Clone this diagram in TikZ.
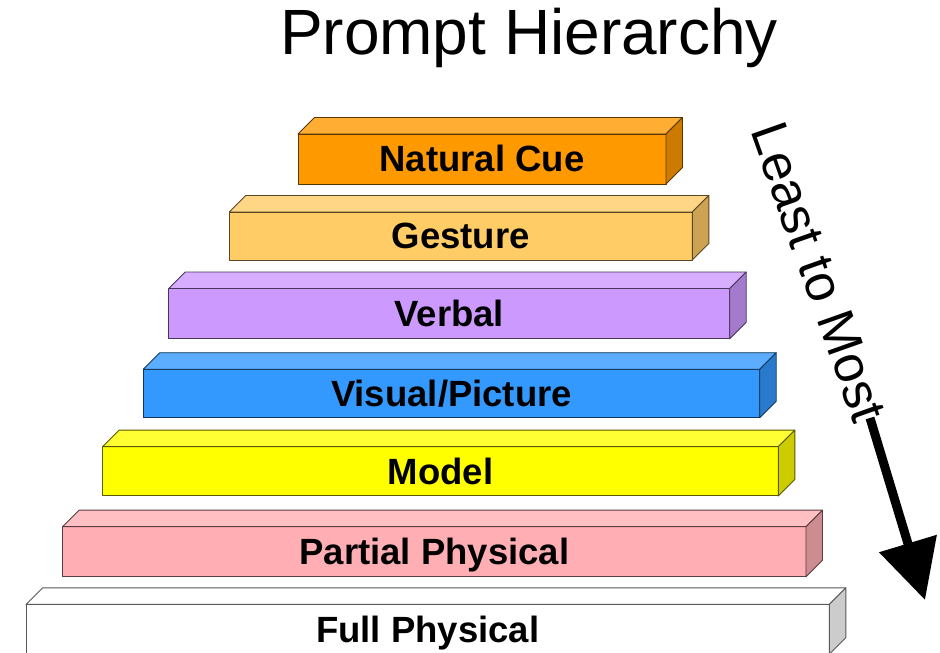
\documentclass[tikz,border=0pt]{standalone}
\usepackage{fontspec}
\setmainfont{Liberation Sans}
\usetikzlibrary{arrows.meta}
\definecolor{cNat}{HTML}{FF9900}
\definecolor{cGes}{HTML}{FFCC66}
\definecolor{cVer}{HTML}{CC99FF}
\definecolor{cVis}{HTML}{3399FF}
\definecolor{cMod}{HTML}{FFFF00}
\definecolor{cPar}{HTML}{FFAFB4}
\definecolor{cFul}{HTML}{FFFFFF}
\tikzset{
  barline/.style={draw=#1!35!black, line width=0.9pt, line join=round},
  barfront/.style={barline=#1, fill=#1, inner sep=0pt, outer sep=0pt,
    font=\fontsize{36.5}{36.5}\selectfont\bfseries, text height=26pt, text depth=0pt},
  plaintext/.style={inner sep=0pt, outer sep=0pt, text=black},
}
\newcommand\stepbar[7]{%
  \node[barfront=#6, minimum width=#4pt, minimum height=#5pt] (#1) at (#2,#3) {#7};
  \draw[barline=#6, fill=#6!80!white] (#1.north west) -- ++(16.5,16.5)
     -- ([shift={(16.5,16.5)}]#1.north east) -- (#1.north east) -- cycle;
  \draw[barline=#6, fill=#6!80!black] (#1.north east) -- ++(16.5,16.5)
     -- ([shift={(16.5,16.5)}]#1.south east) -- (#1.south east) -- cycle;
}
\begin{document}
\begin{tikzpicture}[x=1pt,y=1pt]
\useasboundingbox (0,0) rectangle (940,653);
\fill[white] (0,0) rectangle (940,653);
\node[plaintext, anchor=base west, font=\fontsize{64}{64}\selectfont] (title) at (280,598) {Prompt Hierarchy};
\stepbar{full}{427.7}{23.8}{803.3}{49.7}{cFul}{Full Physical}
\stepbar{partial}{434.3}{101.3}{743.3}{50}{cPar}{Partial Physical}
\stepbar{model}{440.5}{181.7}{675.6}{49.3}{cMod}{Model}
\stepbar{visual}{451.5}{259.5}{616.4}{48.5}{cVis}{Visual/Picture}
\stepbar{verbal}{449.2}{339.3}{561}{50.3}{cVer}{Verbal}
\stepbar{gesture}{460.8}{417}{463}{48}{cGes}{Gesture}
\stepbar{natural}{482}{494}{368}{50}{cNat}{Natural Cue}
\node[plaintext, anchor=base west, rotate=-70.5, font=\fontsize{52}{52}\selectfont] (dir) at (750,522) {Least to Most};
\coordinate (arrowstart) at (870,235);
\coordinate (arrowtip) at (925,53);
\draw[line width=9pt, -{Triangle[length=59pt,width=58pt]}] (arrowstart) -- (arrowtip);
\end{tikzpicture}
\end{document}
